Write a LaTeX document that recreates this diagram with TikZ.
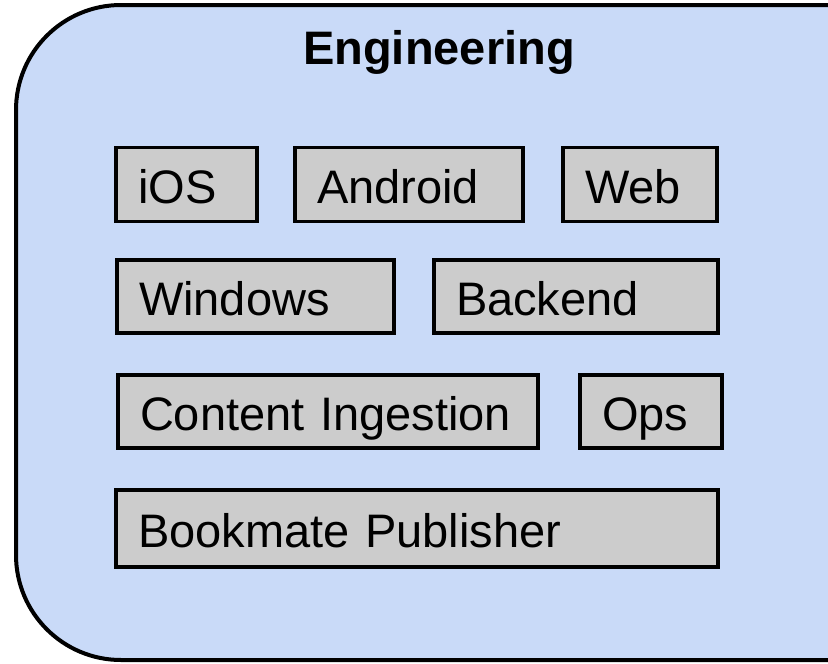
\documentclass[tikz,border=0pt]{standalone}
\usepackage{fontspec}
\setmainfont{Liberation Sans}
\definecolor{panelblue}{HTML}{C9DAF8}
\definecolor{boxgray}{HTML}{CCCCCC}
\begin{document}
\begin{tikzpicture}[x=1pt,y=-1pt,
  box/.style={draw=black, line width=3.5pt, fill=boxgray, inner xsep=22pt, inner ysep=0pt,
    align=left, text height=38pt, text depth=0pt,
    font=\fontsize{47}{51}\selectfont},
  title/.style={font=\fontsize{47}{51}\selectfont\bfseries, anchor=base, inner sep=0pt}]
\useasboundingbox (0,0) rectangle (828,664);
\fill[panelblue, rounded corners=105pt] (1100,5) -- (16,5) -- (16,660) -- (1100,660) -- cycle;
\draw[line width=4pt, rounded corners=105pt] (1100,5) -- (16,5) -- (16,660) -- (1100,660);
\node[title] (eng) at (439,64) {Engineering};
\node[box, text width=97pt, minimum height=74pt] (ios) at (186.5,184.5) {\mbox{iOS}};
\node[box, text width=184pt, minimum height=74pt] (android) at (409,184.5) {\mbox{Android}};
\node[box, text width=110pt, minimum height=74pt] (web) at (640,184.5) {\mbox{Web}};
\node[box, text width=233pt, minimum height=73pt] (windows) at (255.5,296.5) {\mbox{Windows}};
\node[box, text width=240pt, minimum height=73pt] (backend) at (576,296.5) {\mbox{Backend}};
\node[box, text width=376pt, minimum height=73pt] (content) at (328,411.5) {\mbox{Content Ingestion}};
\node[box, text width=98pt, minimum height=73pt] (ops) at (651,411.5) {\mbox{Ops}};
\node[box, text width=558pt, minimum height=77pt] (bookmate) at (417,528.5) {\mbox{Bookmate Publisher}};
\end{tikzpicture}
\end{document}
